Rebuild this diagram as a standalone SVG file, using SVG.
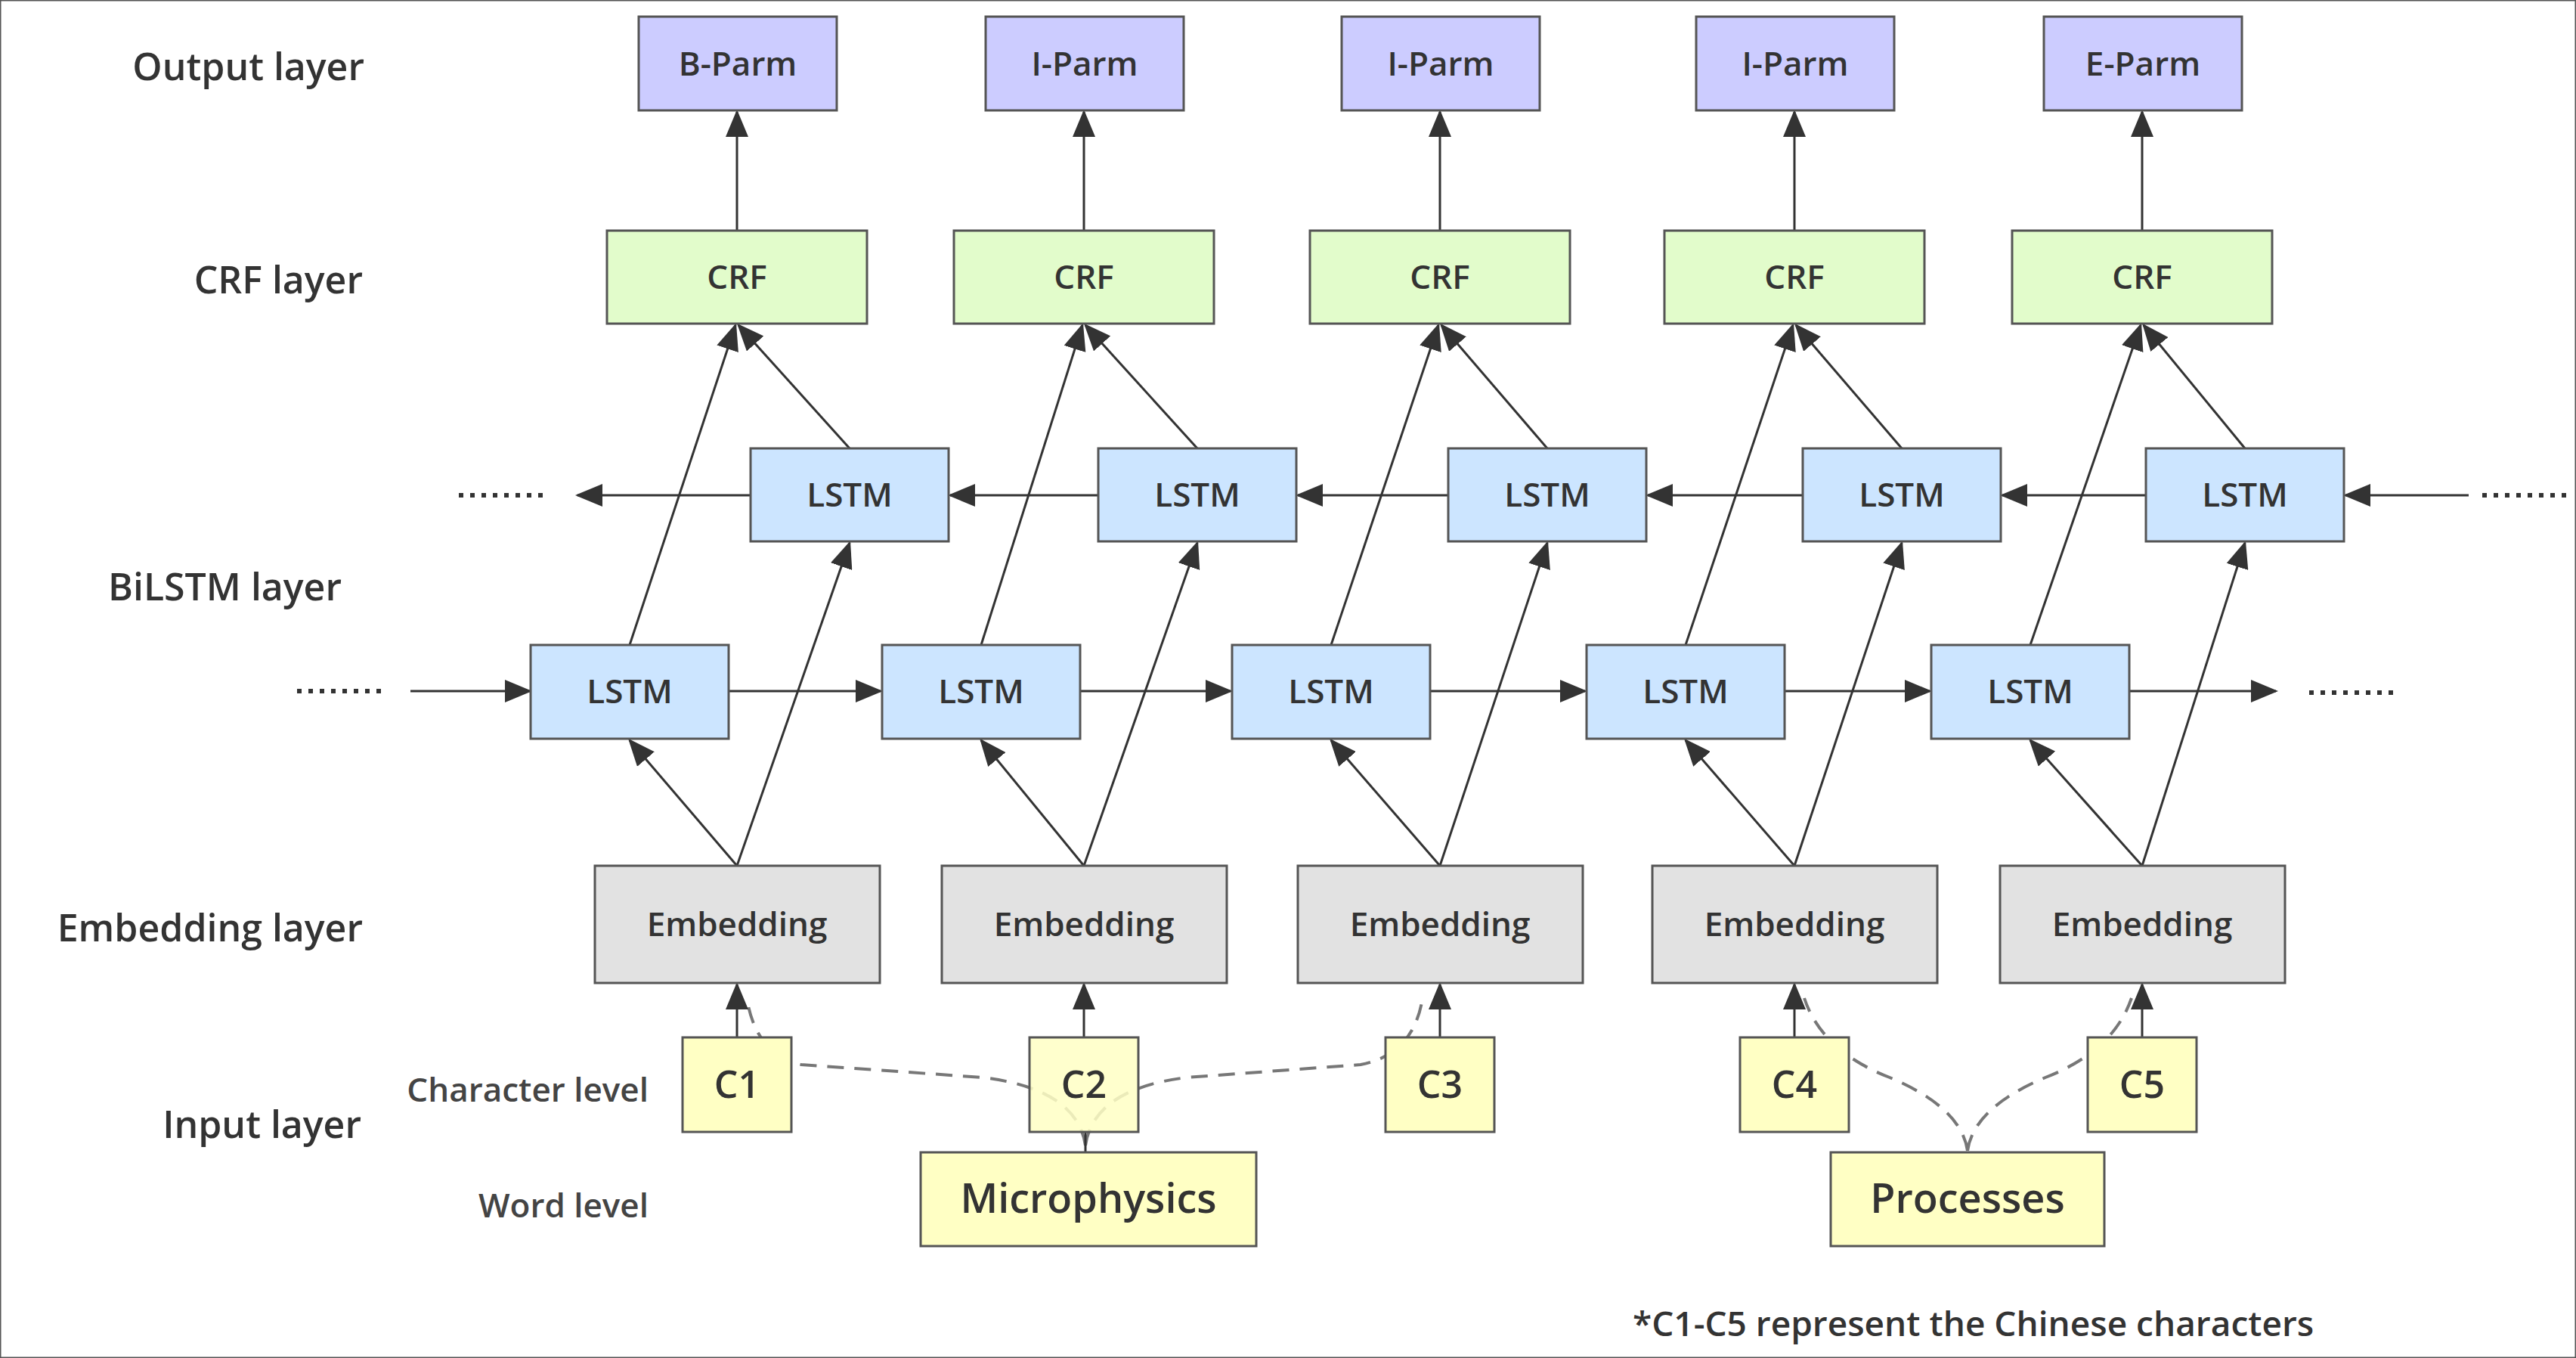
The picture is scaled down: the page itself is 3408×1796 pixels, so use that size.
<svg xmlns="http://www.w3.org/2000/svg" width="3408" height="1796" viewBox="0 0 3408 1796">
<style>
text{font-family:"Open Sans","Noto Sans","Liberation Sans",sans-serif;fill:#333;font-weight:600}
.lbl{font-size:50px;text-anchor:end}
.sub{font-size:44px;text-anchor:end;fill:#444}
.bt{font-size:44px;text-anchor:middle}
rect{stroke:#555;stroke-width:3}
.out{fill:#ccccff}.crf{fill:#e2fccb}.lstm{fill:#cce5ff}.emb{fill:#e2e2e2}.inp{fill:#ffffc4}
.c line{stroke:#333;stroke-width:3;marker-end:url(#ah)}
.dash{fill:none;stroke:#777;stroke-width:4;stroke-dasharray:22 14}
.dots{stroke:#333;stroke-width:6;stroke-dasharray:6 9}
</style>
<defs><marker id="ah" markerWidth="12" markerHeight="10" refX="11" refY="5" orient="auto" markerUnits="strokeWidth"><path d="M0,0 L12,5 L0,10 Z" fill="#333"/></marker></defs>
<rect width="3408" height="1796" fill="#fff" stroke="none"/>
<g id="labels">
<text class="lbl" x="482" y="106">Output layer</text>
<text class="lbl" x="480" y="388">CRF layer</text>
<text class="lbl" x="452" y="794">BiLSTM layer</text>
<text class="lbl" x="480" y="1245">Embedding layer</text>
<text class="lbl" x="478" y="1505">Input layer</text>
<text class="sub" x="858" y="1457">Character level</text>
<text class="sub" x="858" y="1610">Word level</text>
<text x="2160" y="1767" style="font-size:46px">*C1-C5 represent the Chinese characters</text>
</g>
<g id="connectors" class="c">
<path class="dash" d="M1436,1515 Q1425,1440 1300,1425 L1060,1408 Q1000,1395 988,1320"/>
<path class="dash" d="M1436,1515 Q1447,1440 1570,1425 L1800,1408 Q1870,1395 1882,1320"/>
<path class="dash" d="M2603,1522 Q2595,1465 2500,1425 Q2410,1390 2387,1320"/>
<path class="dash" d="M2603,1522 Q2611,1465 2706,1425 Q2796,1390 2820,1320"/>
<line x1="1436" y1="1497" x2="1436" y2="1524" style="marker-end:none"/>
<line class="dots" x1="393" y1="914" x2="508" y2="914" style="marker-end:none;stroke-dasharray:6 9;stroke-width:6"/>
<line class="dots" x1="3055" y1="916" x2="3170" y2="916" style="marker-end:none;stroke-dasharray:6 9;stroke-width:6"/>
<line class="dots" x1="607" y1="655" x2="722" y2="655" style="marker-end:none;stroke-dasharray:6 9;stroke-width:6"/>
<line class="dots" x1="3284" y1="655" x2="3399" y2="655" style="marker-end:none;stroke-dasharray:6 9;stroke-width:6"/>
<line x1="543" y1="914" x2="701" y2="914"/>
<line x1="964" y1="914" x2="1165" y2="914"/>
<line x1="1429" y1="914" x2="1628" y2="914"/>
<line x1="1892" y1="914" x2="2097" y2="914"/>
<line x1="2361" y1="914" x2="2553" y2="914"/>
<line x1="2817" y1="914" x2="3011" y2="914"/>
<line x1="3266" y1="655" x2="3103" y2="655"/>
<line x1="2839" y1="655" x2="2649" y2="655"/>
<line x1="2385" y1="655" x2="2180" y2="655"/>
<line x1="1916" y1="655" x2="1717" y2="655"/>
<line x1="1453" y1="655" x2="1257" y2="655"/>
<line x1="993" y1="655" x2="764" y2="655"/>
<line x1="975" y1="305" x2="975" y2="148"/><line x1="1434" y1="305" x2="1434" y2="148"/><line x1="1905" y1="305" x2="1905" y2="148"/><line x1="2374" y1="305" x2="2374" y2="148"/><line x1="2834" y1="305" x2="2834" y2="148"/>
<line x1="833" y1="853" x2="973" y2="430"/><line x1="1124" y1="593" x2="977" y2="430"/>
<line x1="1298" y1="853" x2="1432" y2="430"/><line x1="1584" y1="593" x2="1436" y2="430"/>
<line x1="1761" y1="853" x2="1903" y2="430"/><line x1="2047" y1="593" x2="1907" y2="430"/>
<line x1="2230" y1="853" x2="2372" y2="430"/><line x1="2516" y1="593" x2="2376" y2="430"/>
<line x1="2686" y1="853" x2="2832" y2="430"/><line x1="2970" y1="593" x2="2836" y2="430"/>
<line x1="975" y1="1145" x2="833" y2="979"/><line x1="975" y1="1145" x2="1124" y2="718"/>
<line x1="1434" y1="1145" x2="1298" y2="979"/><line x1="1434" y1="1145" x2="1584" y2="718"/>
<line x1="1905" y1="1145" x2="1761" y2="979"/><line x1="1905" y1="1145" x2="2047" y2="718"/>
<line x1="2374" y1="1145" x2="2230" y2="979"/><line x1="2374" y1="1145" x2="2516" y2="718"/>
<line x1="2834" y1="1145" x2="2686" y2="979"/><line x1="2834" y1="1145" x2="2970" y2="718"/>
<line x1="975" y1="1372" x2="975" y2="1302"/><line x1="1434" y1="1372" x2="1434" y2="1302"/><line x1="1905" y1="1372" x2="1905" y2="1302"/><line x1="2374" y1="1372" x2="2374" y2="1302"/><line x1="2834" y1="1372" x2="2834" y2="1302"/>
</g>
<g id="out1"><rect class="out" x="845" y="22" width="262" height="124"/><text class="bt" x="976" y="100">B-Parm</text></g>
<g id="out2"><rect class="out" x="1304" y="22" width="262" height="124"/><text class="bt" x="1435" y="100">I-Parm</text></g>
<g id="out3"><rect class="out" x="1775" y="22" width="262" height="124"/><text class="bt" x="1906" y="100">I-Parm</text></g>
<g id="out4"><rect class="out" x="2244" y="22" width="262" height="124"/><text class="bt" x="2375" y="100">I-Parm</text></g>
<g id="out5"><rect class="out" x="2704" y="22" width="262" height="124"/><text class="bt" x="2835" y="100">E-Parm</text></g>
<g id="crf1"><rect class="crf" x="803" y="305" width="344" height="123"/><text class="bt" x="975" y="382">CRF</text></g>
<g id="crf2"><rect class="crf" x="1262" y="305" width="344" height="123"/><text class="bt" x="1434" y="382">CRF</text></g>
<g id="crf3"><rect class="crf" x="1733" y="305" width="344" height="123"/><text class="bt" x="1905" y="382">CRF</text></g>
<g id="crf4"><rect class="crf" x="2202" y="305" width="344" height="123"/><text class="bt" x="2374" y="382">CRF</text></g>
<g id="crf5"><rect class="crf" x="2662" y="305" width="344" height="123"/><text class="bt" x="2834" y="382">CRF</text></g>
<g id="bl1"><rect class="lstm" x="993" y="593" width="262" height="123"/><text class="bt" x="1124" y="670">LSTM</text></g>
<g id="bl2"><rect class="lstm" x="1453" y="593" width="262" height="123"/><text class="bt" x="1584" y="670">LSTM</text></g>
<g id="bl3"><rect class="lstm" x="1916" y="593" width="262" height="123"/><text class="bt" x="2047" y="670">LSTM</text></g>
<g id="bl4"><rect class="lstm" x="2385" y="593" width="262" height="123"/><text class="bt" x="2516" y="670">LSTM</text></g>
<g id="bl5"><rect class="lstm" x="2839" y="593" width="262" height="123"/><text class="bt" x="2970" y="670">LSTM</text></g>
<g id="fl1"><rect class="lstm" x="702" y="853" width="262" height="124"/><text class="bt" x="833" y="930">LSTM</text></g>
<g id="fl2"><rect class="lstm" x="1167" y="853" width="262" height="124"/><text class="bt" x="1298" y="930">LSTM</text></g>
<g id="fl3"><rect class="lstm" x="1630" y="853" width="262" height="124"/><text class="bt" x="1761" y="930">LSTM</text></g>
<g id="fl4"><rect class="lstm" x="2099" y="853" width="262" height="124"/><text class="bt" x="2230" y="930">LSTM</text></g>
<g id="fl5"><rect class="lstm" x="2555" y="853" width="262" height="124"/><text class="bt" x="2686" y="930">LSTM</text></g>
<g id="emb1"><rect class="emb" x="787" y="1145" width="377" height="155"/><text class="bt" x="975" y="1238">Embedding</text></g>
<g id="emb2"><rect class="emb" x="1246" y="1145" width="377" height="155"/><text class="bt" x="1434" y="1238">Embedding</text></g>
<g id="emb3"><rect class="emb" x="1717" y="1145" width="377" height="155"/><text class="bt" x="1905" y="1238">Embedding</text></g>
<g id="emb4"><rect class="emb" x="2186" y="1145" width="377" height="155"/><text class="bt" x="2374" y="1238">Embedding</text></g>
<g id="emb5"><rect class="emb" x="2646" y="1145" width="377" height="155"/><text class="bt" x="2834" y="1238">Embedding</text></g>
<g id="c1"><rect class="inp" x="903" y="1372" width="144" height="125"/><text class="bt" x="975" y="1452" style="font-size:50px">C1</text></g>
<g id="c2"><rect class="inp" x="1362" y="1372" width="144" height="125" style="fill-opacity:0.85"/><text class="bt" x="1434" y="1452" style="font-size:50px">C2</text></g>
<g id="c3"><rect class="inp" x="1833" y="1372" width="144" height="125"/><text class="bt" x="1905" y="1452" style="font-size:50px">C3</text></g>
<g id="c4"><rect class="inp" x="2302" y="1372" width="144" height="125"/><text class="bt" x="2374" y="1452" style="font-size:50px">C4</text></g>
<g id="c5"><rect class="inp" x="2762" y="1372" width="144" height="125"/><text class="bt" x="2834" y="1452" style="font-size:50px">C5</text></g>
<g id="w1"><rect class="inp" x="1218" y="1524" width="444" height="124"/><text class="bt" x="1440" y="1604" style="font-size:54px">Microphysics</text></g>
<g id="w2"><rect class="inp" x="2422" y="1524" width="362" height="124"/><text class="bt" x="2603" y="1604" style="font-size:54px">Processes</text></g>
</svg>
